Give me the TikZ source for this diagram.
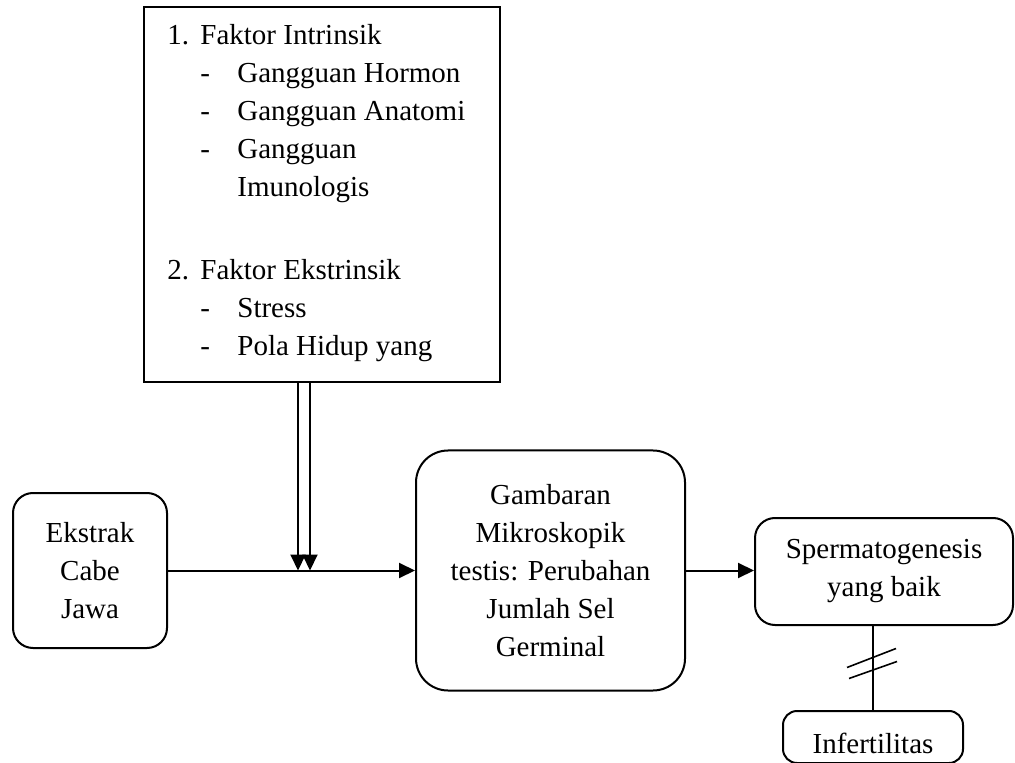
\documentclass[tikz,border=0pt]{standalone}
\usepackage{fontspec}
\setmainfont{Liberation Serif}
\usepackage{array}
\usetikzlibrary{arrows.meta}

\begin{document}
\begin{tikzpicture}[x=0.5pt,y=-0.5pt,
    font=\fontsize{14.5pt}{19pt}\selectfont,
    kotak/.style={draw, line width=1pt, inner sep=0pt},
    bulat/.style={kotak, rounded corners=#1, align=center},
    bulat/.default=10pt,
    panah/.style={line width=1pt, -{Triangle[length=8pt,width=7.5pt]}}]
     \useasboundingbox (0,0) rectangle (1015,763);
     % kotak faktor di atas
     \node[kotak, minimum width=178pt, minimum height=187.5pt] (faktor) at (322,194.5) {};
     \node[anchor=base west, inner sep=0pt] (daftar) at (167,45) {%
       \begin{tabular}[t]{@{}p{16.5pt}@{}p{18.5pt}@{}l@{}}
         1. & \multicolumn{2}{@{}l@{}}{Faktor Intrinsik}\\
            & - & Gangguan Hormon\\
            & - & Gangguan Anatomi\\
            & - & Gangguan\\
            &   & Imunologis\\[22.5pt]
         2. & \multicolumn{2}{@{}l@{}}{Faktor Ekstrinsik}\\
            & - & Stress\\
            & - & Pola Hidup yang
       \end{tabular}};
     % kotak bawah
     \node[bulat, minimum width=77pt, minimum height=77.5pt] (ekstrak) at (90,570.5) {Ekstrak\\Cabe\\Jawa};
     \node[bulat=16pt, minimum width=134.5pt, minimum height=120pt] (gambaran) at (550.5,570.5)
          {Gambaran\\Mikroskopik\\testis: Perubahan\\Jumlah Sel\\Germinal};
     \node[bulat, minimum width=129pt, minimum height=53.5pt] (sperma) at (884,571.5)
          {Spermatogenesis\\yang baik};
     \node[bulat=7pt, minimum width=90pt, text height=21pt, text depth=5pt, anchor=north] (infertil) at (873,710)
          {Infertilitas};
     % panah
     \coordinate (kiri) at ([xshift=-12pt]faktor.south);
     \coordinate (kanan) at ([xshift=-6pt]faktor.south);
     \draw[panah] (kiri) -- (kiri |- ekstrak.east);
     \draw[panah] (kanan) -- (kanan |- ekstrak.east);
     \draw[panah] (ekstrak.east) -- (gambaran.west);
     \draw[panah] (gambaran.east) -- (gambaran.east -| sperma.west);
     \draw[line width=1pt] (infertil.north) -- coordinate (putus) (infertil.north |- sperma.south);
     \draw[line width=0.8pt] ([shift={(-26,-0.5)}]putus) -- ([shift={(23,-19.5)}]putus);
     \draw[line width=0.8pt] ([shift={(-24,10.5)}]putus) -- ([shift={(24,-6.5)}]putus);
\end{tikzpicture}
\end{document}
